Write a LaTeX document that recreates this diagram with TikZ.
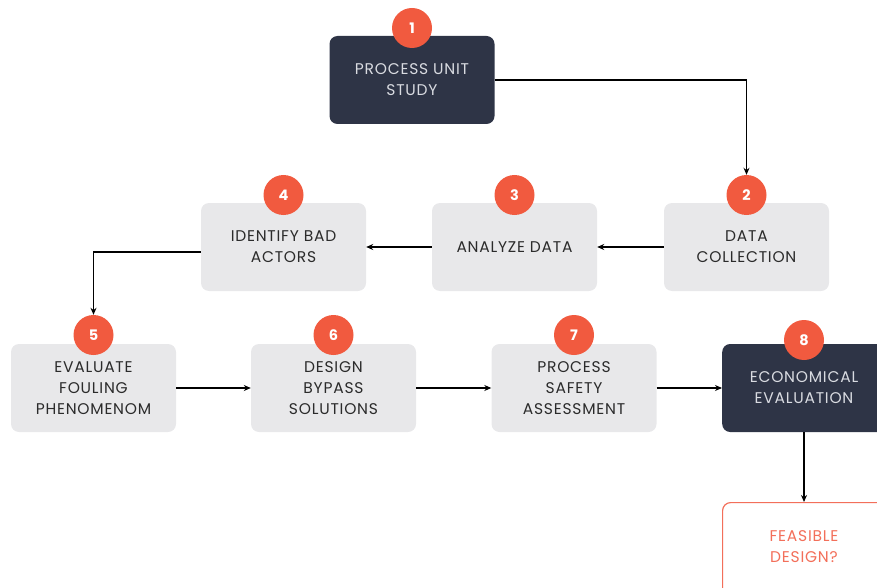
\documentclass[tikz,border=0pt]{standalone}
\usepackage{fontspec}
\setmainfont{Poppins}[LetterSpace=5]
\newfontfamily\badgefont{Poppins}
\usetikzlibrary{arrows.meta}
\definecolor{darkbox}{HTML}{2E3446}
\definecolor{lightbox}{HTML}{E8E8EA}
\definecolor{badge}{HTML}{F15A3F}
\definecolor{feas}{HTML}{F36F5A}
\definecolor{darktext}{HTML}{D9DBE1}
\definecolor{lighttext}{HTML}{2B2B2B}
\tikzset{txt/.style={font=\fontsize{15.5}{21}\selectfont}}
\begin{document}
\begin{tikzpicture}[x=1pt,y=-1pt,
  stepbox/.style={rectangle,rounded corners=8pt,minimum width=165pt,minimum height=88pt,align=center,txt,inner sep=0pt},
  lightstep/.style={stepbox,fill=lightbox,text=lighttext},
  darkstep/.style={stepbox,fill=darkbox,text=darktext},
  badgec/.style={circle,fill=badge,minimum size=40pt,inner sep=0pt,text=white,font=\badgefont\bfseries\fontsize{14.5}{16}\selectfont},
  conn/.style={-{Stealth[length=7pt,width=6pt]},line width=1.3pt,black}]
\useasboundingbox (0,0) rectangle (877,588);
\clip (0,0) rectangle (877,588);
\node[darkstep] (s1) at (412,80) {PROCESS UNIT\\STUDY};
\node[lightstep] (s2) at (746.5,247) {DATA\\COLLECTION};
\node[lightstep] (s3) at (514.5,247) {ANALYZE DATA};
\node[lightstep] (s4) at (283.5,247) {IDENTIFY BAD\\ACTORS};
\node[lightstep] (s5) at (93.5,388) {EVALUATE\\FOULING\\PHENOMENOM};
\node[lightstep] (s6) at (333.5,388) {DESIGN\\BYPASS\\SOLUTIONS};
\node[lightstep] (s7) at (574,388) {PROCESS\\SAFETY\\ASSESSMENT};
\node[darkstep,minimum width=170pt,anchor=west] (s8) at (722,388) {};
\node[text=darktext,txt,align=center] (t8) at (804,388) {ECONOMICAL\\EVALUATION};
\node[rectangle,rounded corners=8pt,draw=feas,line width=1.2pt,fill=white,minimum width=170pt,minimum height=100pt,anchor=north west] (s9) at (722,502) {};
\node[text=feas,txt,align=center] (t9) at (804,547) {FEASIBLE\\DESIGN?};
\node[badgec] (b1) at (412,28) {1};
\node[badgec] (b2) at (746.5,195) {2};
\node[badgec] (b3) at (514.5,195) {3};
\node[badgec] (b4) at (283.5,195) {4};
\node[badgec] (b5) at (93.5,335) {5};
\node[badgec] (b6) at (333.5,335) {6};
\node[badgec] (b7) at (574,335) {7};
\node[badgec] (b8) at (804,340) {8};
\draw[conn] (s1.east) -| (b2.north);
\draw[conn] (s2.west) -- (s3.east);
\draw[conn] (s3.west) -- (s4.east);
\coordinate (c4) at ([yshift=-5pt]s4.west);
\draw[conn] (c4) -| (b5.north);
\draw[conn] (s5.east) -- (s6.west);
\draw[conn] (s6.east) -- (s7.west);
\draw[conn] (s7.east) -- (s8.west);
\draw[conn] (s8.south -| t8) -- (s9.north -| t9);
\end{tikzpicture}
\end{document}
